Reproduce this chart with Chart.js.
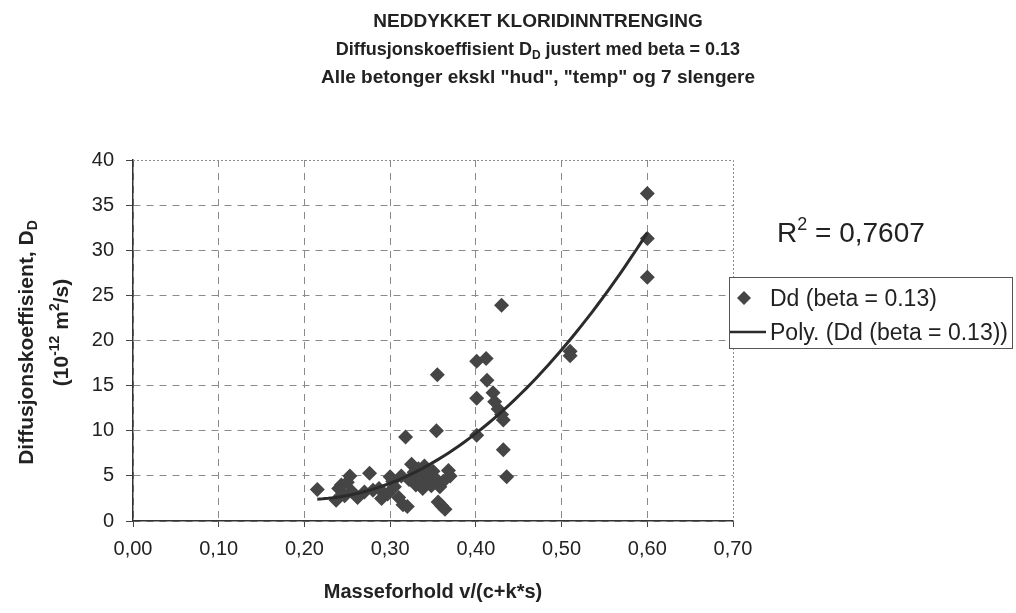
<!DOCTYPE html>
<html>
<head>
<meta charset="utf-8">
<script src="https://cdn.jsdelivr.net/npm/chart.js@4.4.0/dist/chart.umd.min.js"></script>
<style>
  html, body { margin: 0; padding: 0; background: #fff; }
  #wrap { width: 1016px; height: 613px; position: relative; }
</style>
</head>
<body>
<div id="wrap"><canvas id="chart"></canvas></div>
<script>
// masseforhold v/(c+k*s) and Dd (beta = 0.13)
const massRatio = [
  0.215, 0.237, 0.240, 0.243, 0.247, 0.250, 0.253, 0.255, 0.262, 0.270,
  0.276, 0.280, 0.287, 0.290, 0.297, 0.300, 0.303, 0.305, 0.310, 0.313,
  0.315, 0.318, 0.320, 0.322, 0.325, 0.328, 0.330, 0.333, 0.335, 0.338,
  0.340, 0.343, 0.345, 0.348, 0.350, 0.352, 0.354, 0.355, 0.356, 0.358,
  0.360, 0.362, 0.364, 0.368, 0.370, 0.401, 0.401, 0.401, 0.412, 0.413,
  0.420, 0.422, 0.426, 0.430, 0.430, 0.432, 0.432, 0.436, 0.510, 0.510,
  0.600, 0.600, 0.600
];
const diffCoef = [
  3.5, 2.3, 3.6, 4.0, 2.8, 4.3, 5.0, 3.3, 2.6, 3.2,
  5.3, 3.4, 3.6, 2.5, 3.0, 4.9, 4.4, 3.8, 2.6, 5.0,
  1.8, 9.3, 1.6, 4.6, 6.3, 5.4, 4.0, 5.8, 4.8, 3.6,
  6.1, 5.2, 4.4, 3.9, 5.5, 4.8, 10.0, 16.2, 2.1, 3.8,
  1.7, 4.4, 1.3, 5.6, 5.0, 17.7, 13.6, 9.5, 18.0, 15.6,
  14.2, 13.2, 12.4, 23.9, 11.8, 11.2, 7.9, 4.9, 18.8, 18.3,
  36.3, 31.3, 27.0
];
const xTicks = [0, 0.1, 0.2, 0.3, 0.4, 0.5, 0.6, 0.7];
const yTicks = [0, 5, 10, 15, 20, 25, 30, 35, 40];
const seriesLabel = "Dd (beta = 0.13)";
const trendLabel = "Poly. (Dd (beta = 0.13))";
const rSquared = "0,7607";

const FONT = '"Liberation Sans", Arial, sans-serif';

// 2nd order least squares, like the Excel trendline
function polyFit2(xs, ys) {
  const n = xs.length;
  let s = [0, 0, 0, 0, 0], t = [0, 0, 0];
  for (let i = 0; i < n; i++) {
    let p = 1;
    for (let k = 0; k < 5; k++) { s[k] += p; if (k < 3) t[k] += p * ys[i]; p *= xs[i]; }
  }
  const m = [[s[0], s[1], s[2], t[0]], [s[1], s[2], s[3], t[1]], [s[2], s[3], s[4], t[2]]];
  for (let c = 0; c < 3; c++) {
    for (let r = c + 1; r < 3; r++) {
      const f = m[r][c] / m[c][c];
      for (let k = c; k < 4; k++) m[r][k] -= f * m[c][k];
    }
  }
  const a = [0, 0, 0];
  for (let r = 2; r >= 0; r--) {
    let v = m[r][3];
    for (let k = r + 1; k < 3; k++) v -= m[r][k] * a[k];
    a[r] = v / m[r][r];
  }
  return a;
}

const coef = polyFit2(massRatio, diffCoef);
const xMin = Math.min(...massRatio), xMax = Math.max(...massRatio);
const trend = [];
for (let i = 0; i <= 60; i++) {
  const x = xMin + (xMax - xMin) * i / 60;
  trend.push({ x: x, y: coef[0] + coef[1] * x + coef[2] * x * x });
}

// text with sub/superscripts: parts = [[text, 0|1|2]]  0 normal, 1 sub, 2 sup
function richText(ctx, parts, x, y, size, weight, align) {
  const widths = parts.map(p => {
    ctx.font = weight + ' ' + (p[1] ? Math.round(size * 0.65) : size) + 'px ' + FONT;
    return ctx.measureText(p[0]).width;
  });
  const total = widths.reduce((a, b) => a + b, 0);
  let cx = align === 'center' ? x - total / 2 : x;
  ctx.textAlign = 'left';
  ctx.textBaseline = 'alphabetic';
  parts.forEach((p, i) => {
    ctx.font = weight + ' ' + (p[1] ? Math.round(size * 0.65) : size) + 'px ' + FONT;
    const dy = p[1] === 1 ? size * 0.2 : p[1] === 2 ? -size * 0.42 : 0;
    ctx.fillText(p[0], cx, y + dy);
    cx += widths[i];
  });
}

const extras = {
  id: 'extras',
  beforeDatasetsDraw(chart) {
    const { ctx, chartArea: a } = chart;
    ctx.save();
    ctx.strokeStyle = '#8a8a8a';
    ctx.lineWidth = 1;
    ctx.setLineDash([2, 2]);
    ctx.beginPath();
    ctx.moveTo(a.left, a.top + 0.5);
    ctx.lineTo(a.right + 0.5, a.top + 0.5);
    ctx.lineTo(a.right + 0.5, a.bottom);
    ctx.stroke();
    ctx.restore();
  },
  afterDraw(chart) {
    const { ctx, chartArea: a } = chart;
    const midY = (a.top + a.bottom) / 2;
    ctx.save();
    ctx.fillStyle = '#222';
    // titles
    richText(ctx, [['NEDDYKKET KLORIDINNTRENGING', 0]], 538, 27, 19, 'bold', 'center');
    richText(ctx, [['Diffusjonskoeffisient D', 0], ['D', 1], [' justert med beta = 0.13', 0]], 538, 55, 18, 'bold', 'center');
    richText(ctx, [['Alle betonger ekskl "hud", "temp" og 7 slengere', 0]], 538, 83, 19, 'bold', 'center');

    // x axis title
    richText(ctx, [['Masseforhold v/(c+k*s)', 0]], (a.left + a.right) / 2, 598, 20, 'bold', 'center');

    // y axis title, rotated
    ctx.save();
    ctx.translate(33, midY + 2);
    ctx.rotate(-Math.PI / 2);
    richText(ctx, [['Diffusjonskoeffisient, D', 0], ['D', 1]], 0, 0, 21, 'bold', 'center');
    ctx.restore();
    ctx.save();
    ctx.translate(68, midY - 8);
    ctx.rotate(-Math.PI / 2);
    richText(ctx, [['(10', 0], ['-12', 2], [' m', 0], ['2', 2], ['/s)', 0]], 0, 0, 21, 'bold', 'center');
    ctx.restore();

    // R squared
    richText(ctx, [['R', 0], ['2', 2], [' = ' + rSquared, 0]], 777, 242, 28, 'normal', 'left');

    // legend
    const lx = 729, ly = 277, lw = 283, lh = 71;
    ctx.fillStyle = '#fff';
    ctx.fillRect(lx, ly, lw, lh);
    ctx.strokeStyle = '#555';
    ctx.lineWidth = 1;
    ctx.strokeRect(lx + 0.5, ly + 0.5, lw, lh);
    ctx.fillStyle = '#454545';
    ctx.beginPath();
    ctx.moveTo(744, 291); ctx.lineTo(751, 298); ctx.lineTo(744, 305); ctx.lineTo(737, 298);
    ctx.closePath();
    ctx.fill();
    ctx.strokeStyle = '#2b2b2b';
    ctx.lineWidth = 2.5;
    ctx.beginPath();
    ctx.moveTo(730, 332); ctx.lineTo(766, 332);
    ctx.stroke();
    ctx.fillStyle = '#222';
    richText(ctx, [[seriesLabel, 0]], 770, 306, 23, 'normal', 'left');
    richText(ctx, [[trendLabel, 0]], 770, 340, 23, 'normal', 'left');
    ctx.restore();
  }
};

const gridColor = (ctx, maxVal) =>
  (ctx.tick && Math.abs(ctx.tick.value - maxVal) < 1e-9) ? 'rgba(0,0,0,0)' : '#8a8a8a';

new Chart(document.getElementById('chart'), {
  type: 'scatter',
  data: {
    datasets: [
      {
        type: 'line',
        label: trendLabel,
        data: trend,
        borderColor: '#2b2b2b',
        borderWidth: 3,
        pointRadius: 0,
        tension: 0,
        order: 0
      },
      {
        label: seriesLabel,
        data: massRatio.map((x, i) => ({ x: x, y: diffCoef[i] })),
        pointStyle: 'rectRot',
        pointRadius: 7.5,
        backgroundColor: '#454545',
        borderColor: '#454545',
        borderWidth: 0,
        order: 1
      }
    ]
  },
  options: {
    responsive: true,
    maintainAspectRatio: false,
    animation: false,
    events: [],
    layout: { padding: { left: 0, top: 160, right: 283, bottom: 0 } },
    plugins: { legend: { display: false }, title: { display: false }, tooltip: { enabled: false } },
    scales: {
      x: {
        type: 'linear',
        min: 0, max: 0.7,
        afterBuildTicks: axis => { axis.ticks = xTicks.map(v => ({ value: v })); },
        afterFit: axis => { axis.height = 92; },
        ticks: {
          color: '#222',
          font: { family: FONT, size: 20 },
          padding: 10,
          maxRotation: 0,
          callback: v => v.toFixed(2).replace('.', ',')
        },
        grid: {
          color: c => gridColor(c, 0.7),
          lineWidth: 1,
          tickColor: '#444',
          tickLength: 6
        },
        border: { color: '#333', width: 1.5, dash: [7, 6] }
      },
      y: {
        type: 'linear',
        min: 0, max: 40,
        afterBuildTicks: axis => { axis.ticks = yTicks.map(v => ({ value: v })); },
        afterFit: axis => { axis.width = 133; },
        ticks: {
          color: '#222',
          font: { family: FONT, size: 20 },
          padding: 12,
          callback: v => String(v)
        },
        grid: {
          color: c => gridColor(c, 40),
          lineWidth: 1,
          tickColor: '#444',
          tickLength: 7
        },
        border: { color: '#333', width: 1.5, dash: [7, 6] }
      }
    }
  },
  plugins: [extras]
});
</script>
</body>
</html>
